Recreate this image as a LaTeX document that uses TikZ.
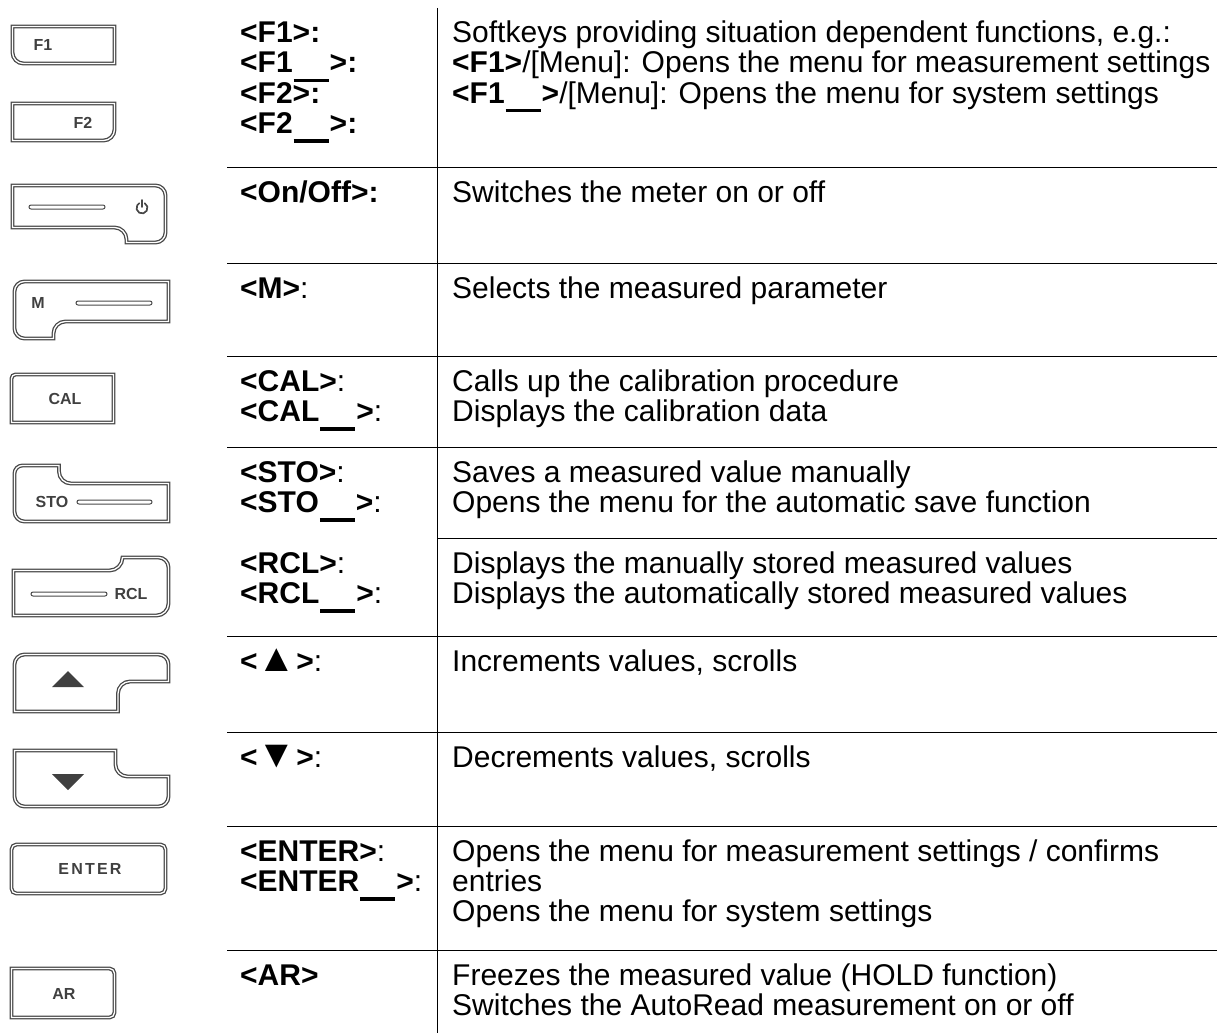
\documentclass[tikz,border=0pt]{standalone}
\usepackage{fontspec}
\setmainfont{Liberation Sans}
\definecolor{keygray}{HTML}{484848}
\definecolor{labelgray}{HTML}{404040}
\newcommand{\rowtext}[1]{\vtop{\halign{##\hfil\cr#1\crcr}}}
\newcommand{\blank}{\kern1pt\smash{\rule[-9.5pt]{35pt}{3.6pt}}\kern1pt}
\newcommand{\bigtri}[1]{\scalebox{1.3}{#1}}

\begin{document}
\begin{tikzpicture}[x=1pt, y=1pt,
	keyline/.style={draw=keygray, double=white, line width=1.3pt, double distance=1.3pt},
	slot/.style={draw=keygray, line width=1pt, rounded corners=2pt},
	keylabel/.style={font=\fontsize{16}{16}\selectfont\bfseries, text=labelgray, inner sep=0pt},
	keyname/.style={anchor=base west, inner sep=0pt, font=\fontsize{30}{30}\selectfont},
	tableline/.style={line width=1pt}]
	\useasboundingbox (0,0) rectangle (1217,-1033);

	% keys
	\draw [keyline] (12.5,-26.5) -- (114.5,-26.5) -- (114.5,-63.5) -- (23.5,-63.5) arc[start angle=270, end angle=180, radius=11] -- cycle;
	\node [keylabel] (f1key) at (43,-45) {F1};

	\draw [keyline] (12.5,-103.5) -- (114.5,-103.5) -- (114.5,-129.5) arc[start angle=0, end angle=-90, radius=11] -- (12.5,-140.5) -- cycle;
	\node [keylabel] (f2key) at (83,-123) {F2};

	\draw [keyline] (12.5,-185.5) -- (155.5,-185.5) arc[start angle=90, end angle=0, radius=10] -- (165.5,-232.5) arc[start angle=0, end angle=-90, radius=10] -- (126.5,-242.5) -- (126.5,-239.5) arc[start angle=0, end angle=90, radius=12] -- (12.5,-227.5) -- cycle;
	\draw [slot] (29,-205) rectangle (105,-209);
	\draw [keygray, line width=1.7pt, line cap=round] (144.75,-203.2) arc[start angle=60, end angle=-240, radius=5.5];
	\draw [keygray, line width=1.7pt, line cap=round] (142,-200) -- (142,-207);

	\draw [keyline] (14.5,-291.5) arc[start angle=180, end angle=90, radius=10] -- (168.5,-281.5) -- (168.5,-321.5) -- (65.5,-321.5) arc[start angle=90, end angle=180, radius=12] -- (53.5,-338.5) -- (24.5,-338.5) arc[start angle=270, end angle=180, radius=10] -- cycle;
	\node [keylabel] (mkey) at (38,-303) {M};
	\draw [slot] (76,-301) rectangle (152,-305);

	\draw [keyline] (11.5,-378.5) arc[start angle=180, end angle=90, radius=4] -- (113.5,-374.5) -- (113.5,-422.5) -- (11.5,-422.5) -- cycle;
	\node [keylabel] (calkey) at (65,-399) {CAL};

	\draw [keyline] (14.5,-473.5) arc[start angle=180, end angle=90, radius=8] -- (59,-465.5) -- (59,-471.5) arc[start angle=180, end angle=270, radius=12] -- (168.5,-483.5) -- (168.5,-521.5) -- (24.5,-521.5) arc[start angle=270, end angle=180, radius=10] -- cycle;
	\node [keylabel] (stokey) at (52,-502) {STO};
	\draw [slot] (77,-500) rectangle (152,-504);

	\draw [keyline] (13.5,-570.5) -- (109.5,-570.5) arc[start angle=270, end angle=360, radius=13] -- (158.5,-557.5) arc[start angle=90, end angle=0, radius=10] -- (168.5,-603.5) arc[start angle=0, end angle=-90, radius=12] -- (13.5,-615.5) -- cycle;
	\node [keylabel] (rclkey) at (131,-594) {RCL};
	\draw [slot] (31,-592) rectangle (107,-596);

	\draw [keyline] (14.5,-664.5) arc[start angle=180, end angle=90, radius=10] -- (158.5,-654.5) arc[start angle=90, end angle=0, radius=10] -- (168.5,-681.5) -- (130,-681.5) arc[start angle=90, end angle=180, radius=12] -- (118,-711.5) -- (14.5,-711.5) -- cycle;
	\fill [labelgray] (52,-687) -- (84,-687) -- (68,-671) -- cycle;

	\draw [keyline] (14.5,-750.5) -- (115.5,-750.5) -- (115.5,-764.5) arc[start angle=180, end angle=270, radius=12] -- (168.5,-776.5) -- (168.5,-796.5) arc[start angle=0, end angle=-90, radius=10] -- (24.5,-806.5) arc[start angle=270, end angle=180, radius=10] -- cycle;
	\fill [labelgray] (52,-774) -- (84,-774) -- (68,-790) -- cycle;

	\draw [keyline, rounded corners=5] (11.5,-844.5) rectangle (165.5,-893.5);
	\node [keylabel] (enterkey) at (90,-869) {E\kern2.2pt N\kern2.2pt T\kern2.2pt E\kern2.2pt R};

	\draw [keyline] (11.5,-968.5) -- (109.5,-968.5) arc[start angle=90, end angle=0, radius=5] -- (114.5,-1012.5) arc[start angle=0, end angle=-90, radius=5] -- (11.5,-1017.5) -- cycle;
	\node [keylabel] (arkey) at (64,-994) {AR};

	% table
	\draw [tableline] (437,-8) -- (437,-1033);
	\foreach \y in {167,263,356,447,636,732,826,950}
		\draw [tableline] (227,-\y) -- (1217,-\y);
	\draw [tableline] (437,-538) -- (1217,-538);

	\node [keyname] (fname) at (240,-43) {\rowtext{\textbf{<F1>:}\cr \textbf{<F1\blank>:}\cr \textbf{<F2>:}\cr \textbf{<F2\blank>:}}};
	\node [keyname] (fdesc) at (452,-43) {\rowtext{Softkeys providing situation dependent functions, e.g.:\cr \textbf{<F1>}/[Menu]: Opens the menu for measurement settings\cr \textbf{<F1\blank>}/[Menu]: Opens the menu for system settings}};

	\node [keyname] (onname) at (240,-202) {\textbf{<On/Off>:}};
	\node [keyname] (ondesc) at (452,-202) {Switches the meter on or off};

	\node [keyname] (mname) at (240,-298) {\textbf{<M>}:};
	\node [keyname] (mdesc) at (452,-298) {Selects the measured parameter};

	\node [keyname] (calname) at (240,-391) {\rowtext{\textbf{<CAL>}:\cr \textbf{<CAL\blank>}:}};
	\node [keyname] (caldesc) at (452,-391) {\rowtext{Calls up the calibration procedure\cr Displays the calibration data}};

	\node [keyname] (stoname) at (240,-482) {\rowtext{\textbf{<STO>}:\cr \textbf{<STO\blank>}:}};
	\node [keyname] (stodesc) at (452,-482) {\rowtext{Saves a measured value manually\cr Opens the menu for the automatic save function}};

	\node [keyname] (rclname) at (240,-573) {\rowtext{\textbf{<RCL>}:\cr \textbf{<RCL\blank>}:}};
	\node [keyname] (rcldesc) at (452,-573) {\rowtext{Displays the manually stored measured values\cr Displays the automatically stored measured values}};

	\node [keyname] (upname) at (240,-671) {\textbf{<\bigtri{▲}>}:};
	\node [keyname] (updesc) at (452,-671) {Increments values, scrolls};

	\node [keyname] (downname) at (240,-767) {\textbf{<\bigtri{▼}>}:};
	\node [keyname] (downdesc) at (452,-767) {Decrements values, scrolls};

	\node [keyname] (entername) at (240,-861) {\rowtext{\textbf{<ENTER>}:\cr \textbf{<ENTER\blank>}:}};
	\node [keyname] (enterdesc) at (452,-861) {\rowtext{Opens the menu for measurement settings / confirms\cr entries\cr Opens the menu for system settings}};

	\node [keyname] (arname) at (240,-985) {\textbf{<AR>}};
	\node [keyname] (ardesc) at (452,-985) {\rowtext{Freezes the measured value (HOLD function)\cr Switches the AutoRead measurement on or off}};
\end{tikzpicture}
\end{document}
